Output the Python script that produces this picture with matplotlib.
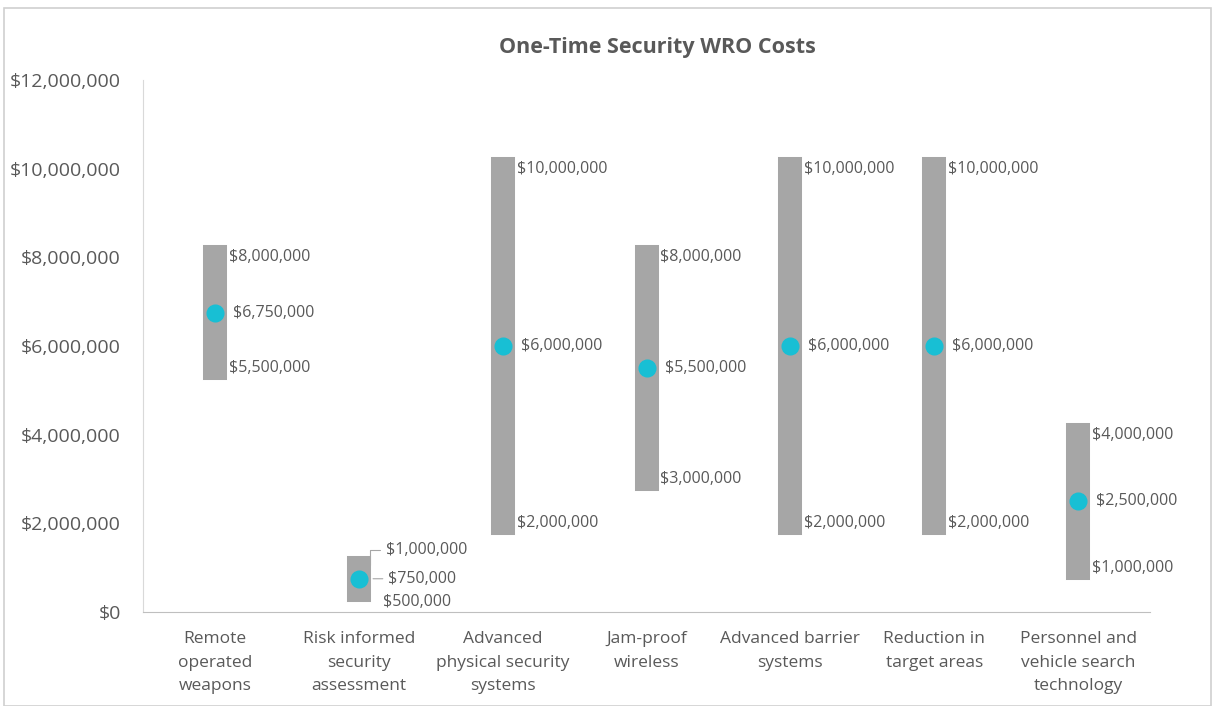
import matplotlib
matplotlib.use("Agg")
import matplotlib.pyplot as plt
from matplotlib.patches import Rectangle
from matplotlib.ticker import FuncFormatter

categories = ["Remote\noperated\nweapons", "Risk informed\nsecurity\nassessment",
              "Advanced\nphysical security\nsystems", "Jam-proof\nwireless",
              "Advanced barrier\nsystems", "Reduction in\ntarget areas",
              "Personnel and\nvehicle search\ntechnology"]
low = [5500000, 500000, 2000000, 3000000, 2000000, 2000000, 1000000]
high = [8000000, 1000000, 10000000, 8000000, 10000000, 10000000, 4000000]
expected = [6750000, 750000, 6000000, 5500000, 6000000, 6000000, 2500000]

plt.rcParams['font.family'] = ['Open Sans', 'DejaVu Sans']
txt = '#595959'
lab = 11.5

fig = plt.figure(figsize=(12.14, 7.06), dpi=100)
fig.patches.append(Rectangle((4 / 1214, 0), 1207 / 1214, 1 - 8 / 706,
                             transform=fig.transFigure, fill=False,
                             edgecolor='#d0d0d0', linewidth=1.2))
ax = fig.add_axes([143 / 1214, 1 - 612 / 706, 1007 / 1214, 532 / 706])

x = list(range(len(categories)))
ax.vlines(x, low, high, colors='#a6a6a6', linewidth=17.3, capstyle='projecting', zorder=2)
ax.plot(x, expected, 'o', color='#18bfd4', markersize=12, zorder=3)

money = lambda v: '${:,.0f}'.format(v)
for i in x:
    if i == 1:
        # small bar: labels pushed apart with leader lines
        ax.annotate(money(high[i]), (i + 0.08, high[i]), xytext=(11, 13),
                    textcoords='offset points', fontsize=lab, color=txt, va='center',
                    arrowprops=dict(arrowstyle='-', color='#a6a6a6', lw=0.8,
                                    connectionstyle='angle,angleA=0,angleB=90,rad=0'))
        ax.annotate(money(expected[i]), (i + 0.08, expected[i]), xytext=(13, 0),
                    textcoords='offset points', fontsize=lab, color=txt, va='center',
                    arrowprops=dict(arrowstyle='-', color='#a6a6a6', lw=0.8))
        ax.annotate(money(low[i]), (i + 0.08, low[i]), xytext=(9, -9),
                    textcoords='offset points', fontsize=lab, color=txt, va='center')
        continue
    ax.annotate(money(high[i]), (i, high[i]), xytext=(10, 0), textcoords='offset points',
                fontsize=lab, color=txt, va='center')
    ax.annotate(money(expected[i]), (i, expected[i]), xytext=(13, 0), textcoords='offset points',
                fontsize=lab, color=txt, va='center')
    ax.annotate(money(low[i]), (i, low[i]), xytext=(10, 0), textcoords='offset points',
                fontsize=lab, color=txt, va='center')

ax.set_xlim(-0.5, len(categories) - 0.5)
ax.set_ylim(0, 12000000)
ax.set_yticks(range(0, 12000001, 2000000))
ax.yaxis.set_major_formatter(FuncFormatter(lambda v, p: money(v)))
ax.set_xticks(x)
ax.set_xticklabels(categories, fontsize=12.5, color=txt, linespacing=1.6)
ax.tick_params(axis='y', labelsize=14, colors=txt, length=0, pad=16)
ax.tick_params(axis='x', length=0, pad=14)
for s in ['top', 'right']:
    ax.spines[s].set_visible(False)
ax.spines['left'].set_color('#d9d9d9')
ax.spines['bottom'].set_color('#bfbfbf')

fig.text(657 / 1214, 1 - 48 / 706, 'One-Time Security WRO Costs', ha='center', va='center',
         fontsize=15.5, fontweight='bold', color='#595959')

fig.savefig('out.png', dpi=100)
